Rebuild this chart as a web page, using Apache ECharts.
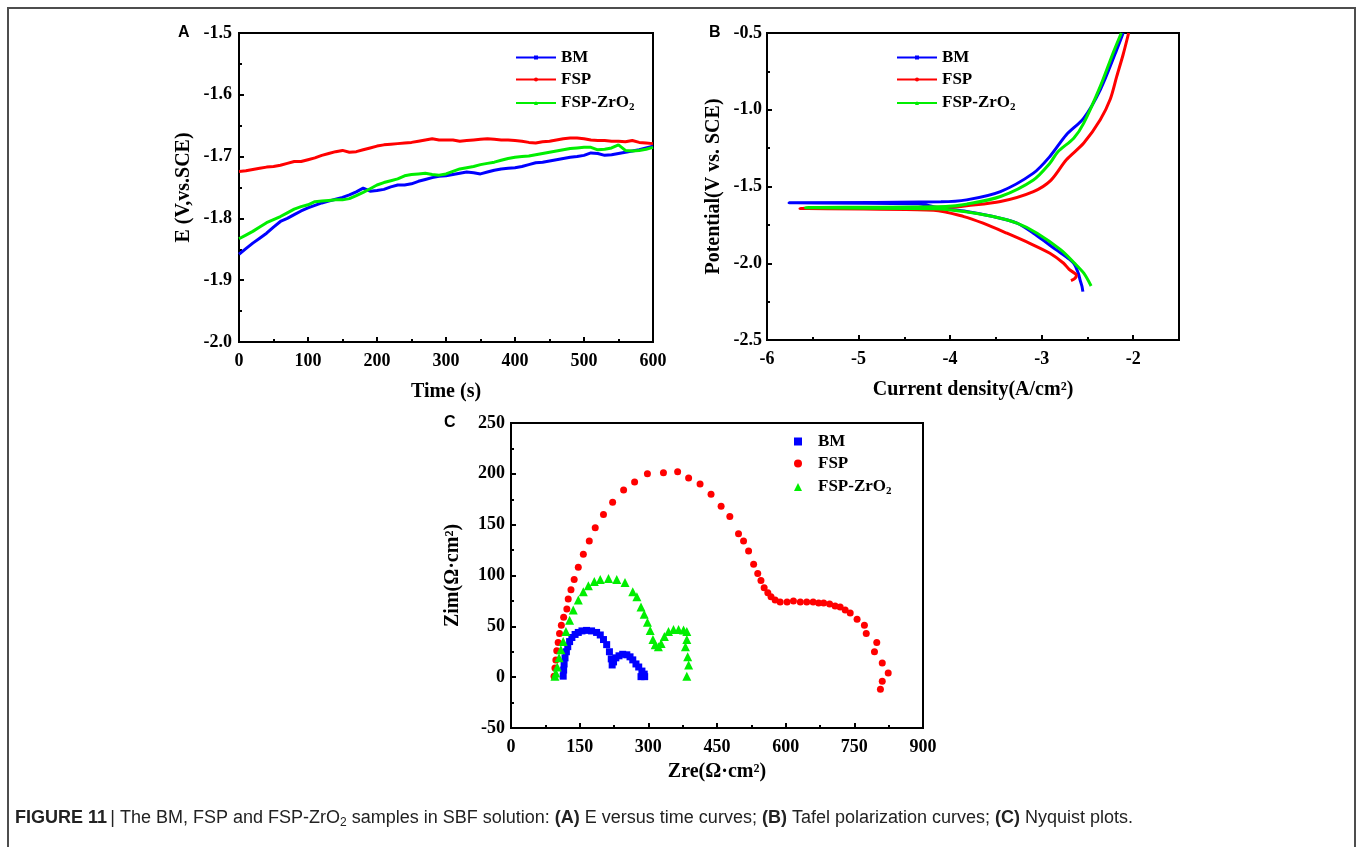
<!DOCTYPE html>
<html>
<head>
<meta charset="utf-8">
<script src="https://cdn.jsdelivr.net/npm/echarts@6/dist/echarts.min.js"></script>
<style>
  html, body { margin: 0; padding: 0; background: #fff; }
  #main { width: 1357px; height: 847px; }
</style>
</head>
<body>
<div id="main"></div>
<script>
// (A) open circuit potential vs time
var timeA = [0,10,20,30,40,50,60,70,80,90,100,110,120,130,140,150,160,170,180,190,200,210,220,230,240,250,260,270,280,290,300,
  310,320,330,340,350,360,370,380,390,400,410,420,430,440,450,460,470,480,490,500,510,520,530,540,550,560,570,580,590,600];
var bmE = [-1.858,-1.849,-1.840,-1.832,-1.824,-1.814,-1.805,-1.800,-1.794,-1.788,-1.783,-1.779,-1.775,-1.772,-1.769,-1.766,-1.762,-1.757,-1.751,-1.756,
  -1.755,-1.753,-1.749,-1.746,-1.746,-1.744,-1.740,-1.737,-1.734,-1.732,-1.731,-1.729,-1.727,-1.725,-1.726,-1.728,-1.725,-1.722,-1.720,-1.719,
  -1.718,-1.716,-1.713,-1.710,-1.709,-1.707,-1.705,-1.703,-1.701,-1.700,-1.698,-1.694,-1.695,-1.698,-1.697,-1.695,-1.693,-1.691,-1.689,-1.686,-1.683];
var fspE = [-1.724,-1.723,-1.721,-1.719,-1.717,-1.716,-1.714,-1.711,-1.708,-1.708,-1.705,-1.702,-1.698,-1.695,-1.692,-1.690,-1.693,-1.692,-1.689,-1.686,
  -1.683,-1.681,-1.680,-1.679,-1.678,-1.677,-1.675,-1.673,-1.671,-1.673,-1.673,-1.673,-1.675,-1.674,-1.673,-1.672,-1.671,-1.672,-1.673,-1.673,
  -1.674,-1.675,-1.677,-1.678,-1.676,-1.675,-1.673,-1.671,-1.670,-1.670,-1.671,-1.673,-1.674,-1.674,-1.675,-1.675,-1.676,-1.674,-1.677,-1.678,-1.679];
var zrE = [-1.833,-1.827,-1.821,-1.814,-1.807,-1.802,-1.797,-1.791,-1.785,-1.781,-1.778,-1.773,-1.772,-1.771,-1.770,-1.770,-1.768,-1.763,-1.758,-1.752,
  -1.746,-1.742,-1.739,-1.736,-1.731,-1.729,-1.728,-1.727,-1.729,-1.730,-1.728,-1.724,-1.720,-1.718,-1.716,-1.713,-1.711,-1.709,-1.706,-1.703,
  -1.701,-1.700,-1.699,-1.697,-1.695,-1.693,-1.691,-1.689,-1.687,-1.686,-1.685,-1.685,-1.689,-1.688,-1.686,-1.681,-1.690,-1.691,-1.690,-1.688,-1.685];

// (B) Tafel curves: log current density and potential, in path order
var bmLogI = [-2.55,-2.56,-2.58,-2.60,-2.65,-2.74,-2.84,-2.96,-3.09,-3.27,-3.53,-3.82,-4.11,-4.35,-5.76,-4.10,-3.82,-3.45,-3.09,-2.91,-2.73,-2.54,-2.36,-2.18,-2.11];
var bmPot = [-2.185,-2.15,-2.11,-2.065,-2.0,-1.955,-1.913,-1.86,-1.804,-1.739,-1.696,-1.663,-1.641,-1.612,-1.606,-1.600,-1.587,-1.533,-1.413,-1.304,-1.163,-1.054,-0.87,-0.609,-0.5];
var fspLogI = [-2.68,-2.64,-2.62,-2.70,-2.76,-2.91,-3.13,-3.38,-3.64,-3.85,-4.18,-5.64,-3.96,-3.82,-3.45,-3.09,-2.90,-2.73,-2.54,-2.36,-2.25,-2.18,-2.11,-2.05];
var fspPot = [-2.113,-2.10,-2.08,-2.04,-2.0,-1.935,-1.87,-1.804,-1.739,-1.696,-1.655,-1.643,-1.634,-1.626,-1.598,-1.533,-1.46,-1.326,-1.217,-1.065,-0.93,-0.783,-0.64,-0.5];
var zrLogI = [-2.46,-2.54,-2.64,-2.79,-3.05,-3.27,-3.53,-3.85,-4.18,-5.58,-4.05,-3.82,-3.45,-3.09,-2.91,-2.82,-2.65,-2.54,-2.36,-2.22,-2.13];
var zrPot = [-2.148,-2.065,-2.0,-1.913,-1.804,-1.739,-1.696,-1.663,-1.645,-1.638,-1.630,-1.615,-1.565,-1.457,-1.348,-1.272,-1.185,-1.087,-0.848,-0.63,-0.5];

// (C) Nyquist plots
var bmZre = [114,115,116,118,121,124,128,133,140,147,155,165,176,187,195,202,209,215,219,221,224,229,236,244,253,260,266,273,279,286,291,292,284];
var bmZim = [1,7,13,19,25,30,35,39,42,44,45.5,46,45.5,44,41.5,37,32,25,18,12,15,19,21,22.5,22,20,17,13,10,6,3,0.5,0.5];
var fspZre = [94,96,98,100,103,106,110,115,122,125,131,138,147,158,171,184,202,222,246,270,298,333,364,388,413,437,459,478,497,508,
  519,530,539,546,553,561,568,577,588,603,617,632,646,660,672,683,696,708,719,730,741,756,772,776,799,794,811,824,811,807];
var fspZim = [1,9,17,26,34,43,51,59,67,77,86,96,108,121,134,147,160,172,184,192,200,201,202,196,190,180,168,158,141,134,
  124,111,102,95,88,83,79,76,74,74,75,74,74,74,73,73,72,70,69,66,63,57,51,43,34,25,14,4,-4,-12];
var zrZre = [96,98,101,105,109,114,120,128,136,147,158,169,182,195,213,231,249,266,275,284,291,298,304,310,315,322,328,335,344,355,366,377,384,384,381,386,388,384];
var zrZim = [1,4,10,19,27,35,45,56,66,76,84,90,94,96,97,96,93,84,79,69,62,54,46,37,32,30,33,40,45,47,47,46.5,45,37,30,20,12,1];

var blue = '#0000ff', red = '#ff0000', green = '#00ee00';
var serif = '"Liberation Serif", "Times New Roman", serif';
var sans = '"Liberation Sans", Arial, sans-serif';

function zip(xs, ys) {
  return xs.map(function (x, i) { return [x, ys[i]]; });
}

var legendNames = { BM: '{n|BM}', FSP: '{n|FSP}', ZR: '{n|FSP-ZrO}{s|2}' };
function legendText(padLeft) {
  return {
    color: '#000', fontFamily: serif, fontWeight: 'bold', fontSize: 17,
    rich: {
      n: { fontFamily: serif, fontWeight: 'bold', fontSize: 17, lineHeight: 18, padding: [0, 0, 0, padLeft] },
      s: { fontFamily: serif, fontWeight: 'bold', fontSize: 11, lineHeight: 11, padding: [9, 0, 0, 0] }
    }
  };
}
function legendFmt(name) { return legendNames[name.split('_')[0]]; }

function axisCommon(gap, fmt) {
  return {
    axisLine: { show: true, onZero: false, lineStyle: { color: '#000', width: 2 } },
    axisTick: { show: true, inside: true, length: 5, lineStyle: { color: '#000', width: 2 } },
    minorTick: { show: true, splitNumber: 2, length: 3, lineStyle: { color: '#000', width: 2 } },
    splitLine: { show: false },
    axisLabel: { margin: gap, color: '#000', fontFamily: serif, fontWeight: 'bold', fontSize: 18, formatter: fmt },
    nameLocation: 'middle',
    nameTextStyle: { color: '#000', fontFamily: serif, fontWeight: 'bold', fontSize: 20 }
  };
}
function ax(base, extra) { return Object.assign({}, base, extra); }
function f1(v) { return v.toFixed(1); }
function f0(v) { return String(Math.round(v)); }

var chart = echarts.init(document.getElementById('main'));

var xB = ax(axisCommon(10, f0), { gridIndex: 1, type: 'value', min: -6, max: -1.5, interval: 1, name: 'Current density(A/cm²)', nameGap: 40 });
xB.axisLabel = Object.assign({}, xB.axisLabel, { showMaxLabel: false });

var option = {
  animation: false,
  backgroundColor: '#fff',
  grid: [
    { left: 239, top: 33, width: 414, height: 309, show: true, borderColor: '#000', borderWidth: 2 },
    { left: 767, top: 33, width: 412, height: 307, show: true, borderColor: '#000', borderWidth: 2 },
    { left: 511, top: 423, width: 412, height: 305, show: true, borderColor: '#000', borderWidth: 2 }
  ],
  xAxis: [
    ax(axisCommon(10, f0), { gridIndex: 0, type: 'value', min: 0, max: 600, interval: 100, name: 'Time (s)', nameGap: 40 }),
    xB,
    ax(axisCommon(10, f0), { gridIndex: 2, type: 'value', min: 0, max: 900, interval: 150, name: 'Zre(Ω·cm²)', nameGap: 34 })
  ],
  yAxis: [
    ax(axisCommon(7, f1), { gridIndex: 0, type: 'value', min: -2.0, max: -1.5, interval: 0.1, name: 'E (V,vs.SCE)', nameGap: 45 }),
    ax(axisCommon(5, f1), { gridIndex: 1, type: 'value', min: -2.5, max: -0.5, interval: 0.5, name: 'Potential(V vs. SCE)', nameGap: 43 }),
    ax(axisCommon(6, f0), { gridIndex: 2, type: 'value', min: -50, max: 250, interval: 50, name: 'Zim(Ω·cm²)', nameGap: 48 })
  ],
  legend: [
    { left: 515, top: 49, padding: 0, orient: 'vertical', itemWidth: 40, itemHeight: 5, itemGap: 5, selectedMode: false,
      data: ['BM_A', 'FSP_A', 'ZR_A'], formatter: legendFmt, textStyle: legendText(0) },
    { left: 896, top: 49, padding: 0, orient: 'vertical', itemWidth: 40, itemHeight: 5, itemGap: 5, selectedMode: false,
      data: ['BM_B', 'FSP_B', 'ZR_B'], formatter: legendFmt, textStyle: legendText(0) },
    { left: 794, top: 433, padding: 0, orient: 'vertical', itemWidth: 8, itemHeight: 8, itemGap: 5, selectedMode: false,
      data: ['BM_C', 'FSP_C', 'ZR_C'], formatter: legendFmt, textStyle: legendText(11) }
  ],
  series: [
    { name: 'BM_A', type: 'line', xAxisIndex: 0, yAxisIndex: 0, data: zip(timeA, bmE), showSymbol: false, symbol: 'rect',
      color: blue, lineStyle: { width: 3 } },
    { name: 'FSP_A', type: 'line', xAxisIndex: 0, yAxisIndex: 0, data: zip(timeA, fspE), showSymbol: false, symbol: 'circle',
      color: red, lineStyle: { width: 3 } },
    { name: 'ZR_A', type: 'line', xAxisIndex: 0, yAxisIndex: 0, data: zip(timeA, zrE), showSymbol: false, symbol: 'triangle',
      color: green, lineStyle: { width: 3 } },

    { name: 'BM_B', type: 'line', xAxisIndex: 1, yAxisIndex: 1, data: zip(bmLogI, bmPot), showSymbol: false, symbol: 'rect',
      smooth: 0.3, color: blue, lineStyle: { width: 3 } },
    { name: 'FSP_B', type: 'line', xAxisIndex: 1, yAxisIndex: 1, data: zip(fspLogI, fspPot), showSymbol: false, symbol: 'circle',
      smooth: 0.3, color: red, lineStyle: { width: 3 } },
    { name: 'ZR_B', type: 'line', xAxisIndex: 1, yAxisIndex: 1, data: zip(zrLogI, zrPot), showSymbol: false, symbol: 'triangle',
      smooth: 0.3, color: green, lineStyle: { width: 3 } },

    { name: 'BM_C', type: 'scatter', xAxisIndex: 2, yAxisIndex: 2, data: zip(bmZre, bmZim), symbol: 'rect', symbolSize: 7,
      color: blue, itemStyle: { opacity: 1 } },
    { name: 'FSP_C', type: 'scatter', xAxisIndex: 2, yAxisIndex: 2, data: zip(fspZre, fspZim), symbol: 'circle', symbolSize: 7,
      color: red, itemStyle: { opacity: 1 } },
    { name: 'ZR_C', type: 'scatter', xAxisIndex: 2, yAxisIndex: 2, data: zip(zrZre, zrZim), symbol: 'triangle', symbolSize: 9,
      color: green, itemStyle: { opacity: 1 } }
  ],
  graphic: [
    { type: 'polyline', silent: true, shape: { points: [[8, 847], [8, 8], [1355, 8], [1355, 847]] },
      style: { stroke: '#4d4d4d', lineWidth: 2, fill: null } },
    { type: 'text', left: 178, top: 25, style: { text: 'A', font: 'bold 16px ' + sans, fill: '#000' } },
    { type: 'text', left: 709, top: 25, style: { text: 'B', font: 'bold 16px ' + sans, fill: '#000' } },
    { type: 'text', left: 444, top: 415, style: { text: 'C', font: 'bold 16px ' + sans, fill: '#000' } },
    { type: 'text', left: 15, top: 807, style: {
        text: '{b|FIGURE 11} {r|| The BM, FSP and FSP-ZrO}{s|2}{r| samples in SBF solution: }{b|(A)}{r| E versus time curves; }{b|(B)}{r| Tafel polarization curves; }{b|(C)}{r| Nyquist plots.}',
        fill: '#222',
        rich: {
          b: { fontFamily: sans, fontWeight: 'bold', fontSize: 18, lineHeight: 20, fill: '#222' },
          r: { fontFamily: sans, fontSize: 18, lineHeight: 20, fill: '#222' },
          s: { fontFamily: sans, fontSize: 12, lineHeight: 12, padding: [10, 0, 0, 0], fill: '#222' }
        }
      } }
  ]
};

chart.setOption(option);
</script>
</body>
</html>
